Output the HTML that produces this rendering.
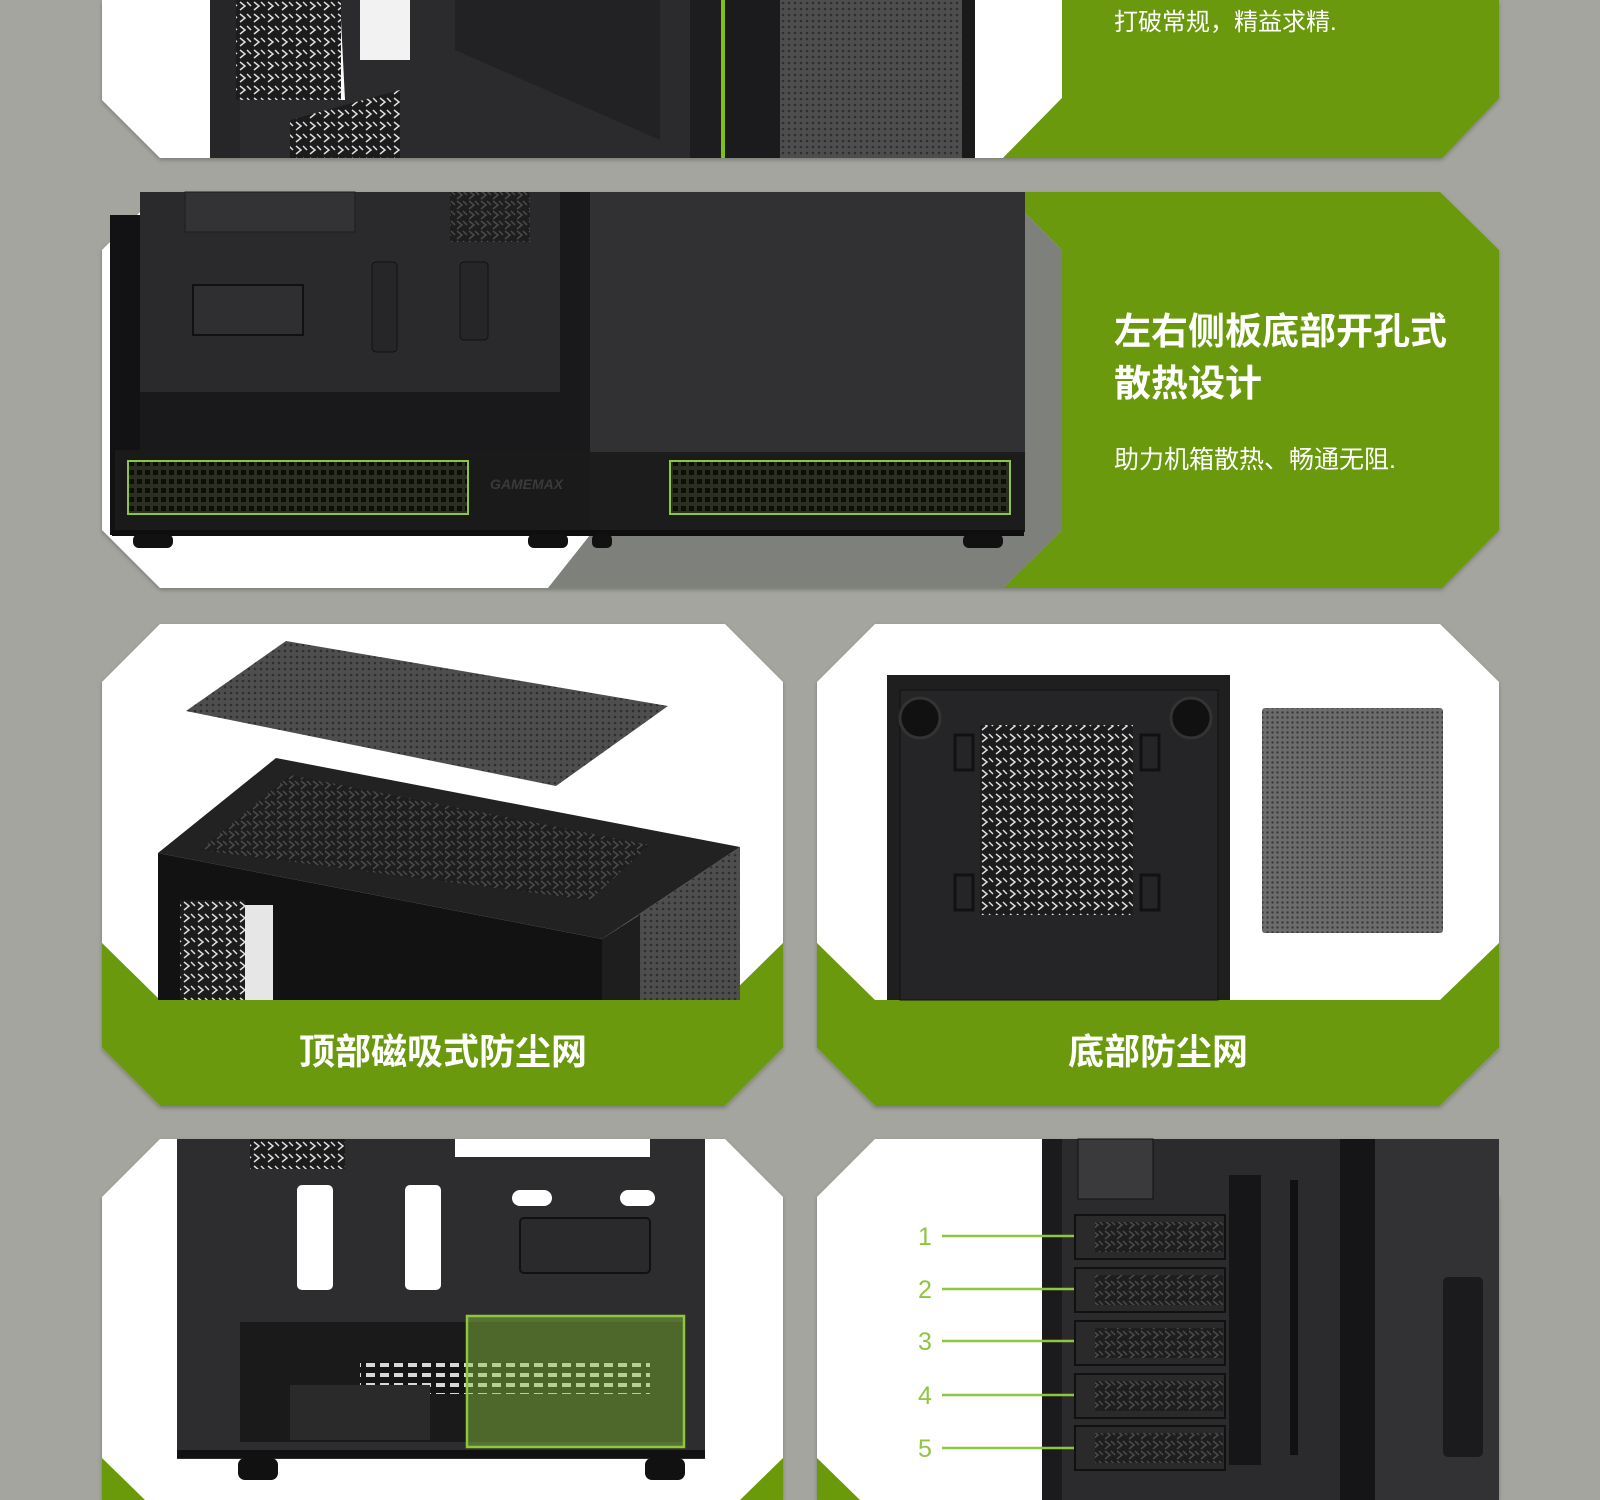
<!DOCTYPE html>
<html><head><meta charset="utf-8"><style>
html,body{margin:0;padding:0;background:#a3a59e;}
svg{display:block}
text{font-family:"Liberation Sans","Noto Sans CJK SC",sans-serif;}
</style></head><body>
<svg width="1600" height="1500" viewBox="0 0 1600 1500" xmlns="http://www.w3.org/2000/svg">
<defs>
<pattern id="mesh" width="6" height="6" patternUnits="userSpaceOnUse"><rect width="6" height="6" fill="#4e4e4e"/><circle cx="3" cy="3" r="1.3" fill="#2f2f2f"/></pattern>
<pattern id="mesh2" width="5" height="5" patternUnits="userSpaceOnUse"><rect width="5" height="5" fill="#6c6c6c"/><circle cx="2.5" cy="2.5" r="1.2" fill="#3a3a3a"/></pattern>
<pattern id="holes" width="14" height="10" patternUnits="userSpaceOnUse"><rect width="14" height="10" fill="#151515"/><rect x="2" y="3" width="9" height="4" fill="#d8d8d8"/></pattern>
<pattern id="slots" width="8" height="9" patternUnits="userSpaceOnUse"><rect width="8" height="9" fill="#2a2f22"/><rect x="1" y="2" width="5" height="5" fill="#0c0e08"/></pattern>
<pattern id="hex" width="14" height="12" patternUnits="userSpaceOnUse"><rect width="14" height="12" fill="#1c1c1c"/><path d="M2 2 L7 6 L2 10 M9 2 L13 6" stroke="#ddd" stroke-width="1.5" fill="none"/></pattern>
<pattern id="hexd" width="12" height="10" patternUnits="userSpaceOnUse"><rect width="12" height="10" fill="#1e1e1e"/><path d="M1 1 L6 5 L1 9 M7 1 L11 5" stroke="#4a4a4a" stroke-width="1.5" fill="none"/></pattern>
<filter id="sh" x="-5%" y="-5%" width="110%" height="110%"><feDropShadow dx="0" dy="2" stdDeviation="2" flood-color="#000" flood-opacity="0.25"/></filter>
</defs>

<!-- Panel 1 -->
<g filter="url(#sh)">
<polygon points="102,0 1062,0 1062,98 1003,158 160,158 102,100" fill="#fff"/>
<polygon points="1062,0 1499,0 1499,98 1442,158 1003,158 1062,98" fill="#6a990a"/>
</g>
<rect x="210" y="0" width="30" height="158" fill="#262628"/>
<polygon points="340,0 720,0 720,158 240,158 240,100 345,100" fill="#2b2b2d"/>
<rect x="236" y="0" width="105" height="100" fill="url(#hex)"/>
<polygon points="360,0 410,0 410,60 360,60" fill="#f2f2f2"/>
<polygon points="455,0 660,0 660,140 455,50" fill="#222224"/>
<polygon points="290,120 400,90 400,158 290,158" fill="url(#hex)"/>
<rect x="690" y="0" width="32" height="158" fill="#1d1d1f"/>
<rect x="721" y="0" width="4" height="158" fill="#7fbf1a"/>
<rect x="725" y="0" width="55" height="158" fill="#1b1b1d"/>
<rect x="780" y="0" width="195" height="158" fill="url(#mesh)"/>
<rect x="962" y="0" width="13" height="158" fill="#1a1a1a"/>
<text x="1114" y="30" font-size="24" fill="#fff">打破常规，精益求精.</text>

<!-- Panel 2 -->
<g filter="url(#sh)">
<polygon points="160,192 1004,192 1062,250 1062,530 1003,588 160,588 102,530 102,250" fill="#fff"/>
<polygon points="1004,192 1440,192 1499,250 1499,530 1442,588 1003,588 1062,530 1062,250" fill="#6a990a"/>
</g>
<polygon points="1022,192 1004,192 1062,250 1062,530 1003,588 548,588 590,535 1022,535" fill="#7e807b"/>
<rect x="110" y="215" width="32" height="320" fill="#121214"/>
<polygon points="140,192 590,192 590,535 115,535 115,450 140,450" fill="#19191b"/>
<rect x="140" y="192" width="420" height="200" fill="#2a2a2c"/>
<rect x="185" y="192" width="170" height="40" fill="#333335" stroke="#1e1e1e"/>
<rect x="193" y="285" width="110" height="50" fill="#2f2f31" stroke="#111" stroke-width="2"/>
<rect x="450" y="192" width="80" height="50" fill="url(#hexd)"/>
<rect x="372" y="262" width="25" height="90" rx="4" fill="#262628" stroke="#111"/>
<rect x="460" y="262" width="28" height="78" rx="4" fill="#262628" stroke="#111"/>
<rect x="115" y="450" width="475" height="82" fill="#1a1a1a"/>
<rect x="128" y="461" width="340" height="53" fill="url(#slots)" stroke="#8dc63f" stroke-width="2"/>
<text x="490" y="489" font-size="14" font-weight="bold" font-style="italic" fill="#3a3a3a">GAMEMAX</text>
<rect x="590" y="192" width="435" height="262" fill="#313133"/>
<rect x="590" y="452" width="435" height="80" fill="#1c1c1c"/>
<rect x="670" y="461" width="340" height="53" fill="url(#slots)" stroke="#8dc63f" stroke-width="2"/>
<rect x="112" y="530" width="912" height="6" fill="#0e0e0e"/>
<rect x="133" y="534" width="40" height="14" rx="6" fill="#111"/>
<rect x="528" y="534" width="40" height="14" rx="6" fill="#111"/>
<rect x="592" y="534" width="20" height="14" rx="5" fill="#111"/>
<rect x="963" y="534" width="40" height="14" rx="6" fill="#111"/>
<text x="1114" y="344" font-size="37" font-weight="bold" fill="#fff">左右侧板底部开孔式</text>
<text x="1114" y="396" font-size="37" font-weight="bold" fill="#fff">散热设计</text>
<text x="1114" y="468" font-size="25" fill="#fff">助力机箱散热、畅通无阻.</text>

<!-- Panel 3 -->
<g filter="url(#sh)">
<polygon points="160,624 725,624 783,682 783,1048 725,1106 160,1106 102,1048 102,682" fill="#fff"/>
<polygon points="102,943 160,1000 725,1000 783,943 783,1048 725,1106 160,1106 102,1048" fill="#6a990a"/>
</g>
<polygon points="186,711 286,641 668,706 556,786" fill="url(#mesh)"/>
<polygon points="158,853 276,758 740,847 602,939" fill="#222"/>
<polygon points="200,850 290,775 650,845 590,900" fill="url(#hexd)"/>
<polygon points="158,853 602,939 602,1000 158,1000" fill="#121212"/>
<rect x="180" y="900" width="65" height="100" fill="url(#hex)"/>
<rect x="245" y="905" width="28" height="95" fill="#e6e6e6"/>
<polygon points="602,939 740,847 740,1000 602,1000" fill="url(#mesh)"/>
<polygon points="602,939 640,915 640,1000 602,1000" fill="#1e1e1e"/>
<text x="443" y="1064" font-size="36" font-weight="bold" fill="#fff" text-anchor="middle">顶部磁吸式防尘网</text>

<!-- Panel 4 -->
<g filter="url(#sh)">
<polygon points="875,624 1440,624 1499,682 1499,1048 1440,1106 875,1106 817,1048 817,682" fill="#fff"/>
<polygon points="817,943 875,1000 1440,1000 1499,943 1499,1048 1440,1106 875,1106 817,1048" fill="#6a990a"/>
</g>
<rect x="887" y="675" width="343" height="325" fill="#1f1f1f"/>
<rect x="900" y="690" width="318" height="310" fill="#252527" stroke="#111"/>
<rect x="980" y="725" width="153" height="190" fill="url(#hex)"/>
<circle cx="920" cy="718" r="20" fill="#111" stroke="#333" stroke-width="3"/>
<circle cx="1191" cy="718" r="20" fill="#111" stroke="#333" stroke-width="3"/>
<rect x="955" y="735" width="18" height="35" fill="none" stroke="#111" stroke-width="3"/>
<rect x="1141" y="735" width="18" height="35" fill="none" stroke="#111" stroke-width="3"/>
<rect x="955" y="875" width="18" height="35" fill="none" stroke="#111" stroke-width="3"/>
<rect x="1141" y="875" width="18" height="35" fill="none" stroke="#111" stroke-width="3"/>
<rect x="1262" y="708" width="181" height="225" rx="3" fill="url(#mesh2)"/>
<text x="1158" y="1064" font-size="36" font-weight="bold" fill="#fff" text-anchor="middle">底部防尘网</text>

<!-- Panel 5 -->
<g filter="url(#sh)">
<polygon points="160,1139 725,1139 783,1197 783,1500 102,1500 102,1197" fill="#fff"/>
</g>
<polygon points="102,1458 145,1500 102,1500" fill="#6a990a"/>
<polygon points="783,1458 740,1500 783,1500" fill="#6a990a"/>
<rect x="177" y="1139" width="528" height="320" fill="#2d2d2f"/>
<rect x="250" y="1139" width="95" height="30" fill="url(#hex)"/>
<rect x="455" y="1139" width="195" height="18" fill="#fff"/>
<rect x="297" y="1185" width="36" height="105" rx="5" fill="#fff"/>
<rect x="405" y="1185" width="36" height="105" rx="5" fill="#fff"/>
<rect x="512" y="1190" width="40" height="16" rx="8" fill="#fff"/>
<rect x="620" y="1190" width="35" height="16" rx="8" fill="#fff"/>
<rect x="520" y="1218" width="130" height="55" rx="4" fill="#2a2a2c" stroke="#111" stroke-width="2"/>
<rect x="240" y="1322" width="445" height="120" fill="#1a1a1b"/>
<rect x="360" y="1362" width="290" height="32" fill="url(#holes)"/>
<rect x="290" y="1385" width="140" height="55" fill="#2a2a2a"/>
<rect x="467" y="1316" width="217" height="131" fill="#8dc63f" fill-opacity="0.45" stroke="#8dc63f" stroke-width="2.5"/>
<rect x="177" y="1450" width="528" height="8" fill="#111"/>
<rect x="238" y="1458" width="40" height="22" rx="7" fill="#111"/>
<rect x="645" y="1458" width="40" height="22" rx="7" fill="#111"/>

<!-- Panel 6 -->
<g filter="url(#sh)">
<polygon points="875,1139 1440,1139 1499,1197 1499,1500 817,1500 817,1197" fill="#fff"/>
</g>
<polygon points="817,1458 860,1500 817,1500" fill="#6a990a"/>
<rect x="1042" y="1139" width="457" height="361" fill="#2b2b2d"/>
<rect x="1042" y="1139" width="20" height="361" fill="#1b1b1d"/>
<rect x="1078" y="1139" width="75" height="60" fill="#3a3a3c" stroke="#111"/>
<rect x="1340" y="1139" width="35" height="361" fill="#151517"/>
<rect x="1375" y="1139" width="124" height="361" fill="#323234"/>
<rect x="1443" y="1277" width="40" height="180" rx="5" fill="#1b1b1d"/>
<g fill="#2a2a2a" stroke="#111" stroke-width="2">
<rect x="1075" y="1215" width="150" height="44"/>
<rect x="1075" y="1268" width="150" height="44"/>
<rect x="1075" y="1321" width="150" height="44"/>
<rect x="1075" y="1374" width="150" height="44"/>
<rect x="1075" y="1426" width="150" height="44"/>
</g>
<g fill="url(#hexd)">
<rect x="1095" y="1222" width="128" height="30"/>
<rect x="1095" y="1275" width="128" height="30"/>
<rect x="1095" y="1328" width="128" height="30"/>
<rect x="1095" y="1381" width="128" height="30"/>
<rect x="1095" y="1433" width="128" height="30"/>
</g>
<rect x="1229" y="1175" width="32" height="290" fill="#161618"/>
<rect x="1290" y="1180" width="8" height="275" fill="#111"/>
<g stroke="#8dc63f" stroke-width="2.5">
<line x1="942" y1="1236" x2="1074" y2="1236"/>
<line x1="942" y1="1289" x2="1074" y2="1289"/>
<line x1="942" y1="1341" x2="1074" y2="1341"/>
<line x1="942" y1="1395" x2="1074" y2="1395"/>
<line x1="942" y1="1448" x2="1074" y2="1448"/>
</g>
<g fill="#8dc63f" font-size="25" text-anchor="middle">
<text x="925" y="1245">1</text>
<text x="925" y="1298">2</text>
<text x="925" y="1350">3</text>
<text x="925" y="1404">4</text>
<text x="925" y="1457">5</text>
</g>
</svg>
</body></html>
